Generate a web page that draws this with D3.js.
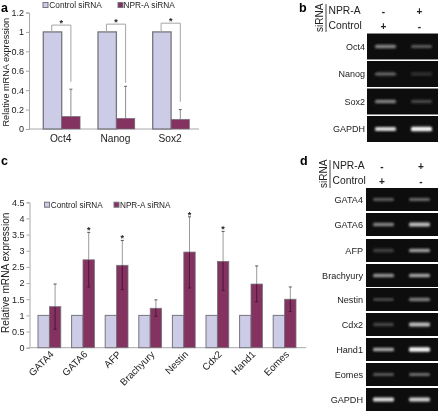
<!DOCTYPE html>
<html><head><meta charset="utf-8">
<script src="https://cdn.jsdelivr.net/npm/d3@7"></script>
<style>html,body{margin:0;padding:0;background:#fff}svg{display:block}text{font-family:"Liberation Sans",Arial,sans-serif;fill:#222}</style>
</head><body><svg id="c" width="439" height="412"></svg>
<script>
const seriesNames = ["Control siRNA", "NPR-A siRNA"];
// panel a
const genesA = ["Oct4", "Nanog", "Sox2"];
const controlA = [1, 1, 1];
const nprA = [0.13, 0.11, 0.10];
const nprAUpper = [0.41, 0.44, 0.20];
const bracketATop = [1.07, 1.08, 1.09];
const bracketAEnd = [0.486, 0.475, 0.28];
const ticksA = [0, 0.2, 0.4, 0.6, 0.8, 1, 1.2];
// panel c
const genesC = ["GATA4", "GATA6", "AFP", "Brachyury", "Nestin", "Cdx2", "Hand1", "Eomes"];
const controlC = [1, 1, 1, 1, 1, 1, 1, 1];
const nprC = [1.27, 2.72, 2.55, 1.22, 2.96, 2.67, 1.97, 1.5];
const nprCUpper = [1.97, 3.57, 3.32, 1.48, 4.05, 3.6, 2.53, 1.88];
const nprCLower = [0.57, 1.88, 1.8, 0.97, 1.85, 1.77, 1.42, 1.12];
const starC = [false, true, true, false, true, true, false, false];
const ticksC = [0, 0.5, 1, 1.5, 2, 2.5, 3, 3.5, 4, 4.5];
// gels: relative band brightness (control lane, NPR-A lane)
const gelB = [["Oct4", .5, .32], ["Nanog", .38, .14], ["Sox2", .48, .24], ["GAPDH", .88, 1]];
const gelD = [["GATA4", .32, .38], ["GATA6", .48, .76], ["AFP", .2, .62], ["Brachyury", .56, .64], ["Nestin", .22, .46],
              ["Cdx2", .22, .76], ["Hand1", .66, 1], ["Eomes", .3, .4], ["GAPDH", .9, .84]];

const COL_C = "#cccce6", COL_N = "#84305f", EDGE = "#77757f", AX = "#a8a8a8";
const svg = d3.select("#c");
const defs = svg.append("defs");
defs.append("filter").attr("id","soft").attr("x","-2%").attr("y","-2%").attr("width","104%").attr("height","104%")
  .append("feGaussianBlur").attr("stdDeviation",0.55);
defs.append("filter").attr("id","band").attr("x","-30%").attr("y","-150%").attr("width","160%").attr("height","400%")
  .append("feGaussianBlur").attr("stdDeviation","1.3 1.1");
const root = svg.append("g").attr("filter","url(#soft)");

function yAxis(g, y, ticks, x, x2, fs) {
  const a = g.append("g").attr("transform",`translate(${x},0)`)
    .call(d3.axisLeft(y).tickValues(ticks).tickSize(3).tickPadding(2).tickFormat(d=>String(d)));
  a.selectAll("path,line").attr("stroke",AX);
  a.selectAll("text").attr("font-size",fs).style("fill","#222");
  g.append("line").attr("x1",x).attr("x2",x2).attr("y1",y(0)).attr("y2",y(0)).attr("stroke",AX);
}
function legend(g, items) {
  items.forEach(d=>{
    g.append("rect").attr("x",d.x).attr("y",d.y-2.5).attr("width",5).attr("height",5).attr("fill",d.c).attr("stroke",EDGE);
    g.append("text").attr("x",d.x+d.dx).attr("y",d.y+3).attr("font-size",d.fs).text(d.t);
  });
}
function tag(t,x,y){root.append("text").attr("x",x).attr("y",y).attr("font-size",12.5).attr("font-weight","bold").style("fill","#000").text(t);}

// ---- panel a
{
  const g = root.append("g");
  const y = d3.scaleLinear().domain([0,1.2]).range([129,12.5]);
  yAxis(g,y,ticksA,29,199,9);
  const bw = 18.4, lefts = d3.scalePoint().domain(genesA).range([43.3,152.7]);
  genesA.forEach((k,i)=>{
    const x0 = lefts(k), xc = x0+bw*1.5;
    g.append("rect").attr("x",x0).attr("y",y(controlA[i])).attr("width",bw).attr("height",y(0)-y(controlA[i])).attr("fill",COL_C).attr("stroke",EDGE).attr("stroke-width",1.3);
    g.append("line").attr("x1",xc).attr("x2",xc).attr("y1",y(nprA[i])).attr("y2",y(nprAUpper[i])).attr("stroke","#8e8e8e");
    g.append("line").attr("x1",xc-1.5).attr("x2",xc+1.5).attr("y1",y(nprAUpper[i])).attr("y2",y(nprAUpper[i])).attr("stroke","#666");
    g.append("rect").attr("x",x0+bw).attr("y",y(nprA[i])).attr("width",bw).attr("height",y(0)-y(nprA[i])).attr("fill",COL_N).attr("stroke",EDGE).attr("stroke-width",.6);
    // significance bracket
    const bx1 = x0+8.4, bx2 = xc, top = y(bracketATop[i]);
    g.append("path").attr("fill","none").attr("stroke","#a5a5a5")
      .attr("d",`M${bx1},${y(1)}V${top}H${bx2}V${y(bracketAEnd[i])}`);
    g.append("text").attr("x",(bx1+bx2)/2).attr("y",top+1).attr("text-anchor","middle").attr("font-size",9).attr("font-weight","bold").text("*");
    g.append("text").attr("x",x0+bw-1).attr("y",142).attr("text-anchor","middle").attr("font-size",10.2).text(k);
  });
  root.append("text").attr("transform","translate(8.5,126.5) rotate(-90)").attr("font-size",9.15).text("Relative mRNA expression");
  legend(g,[{x:43,y:5,dx:6.3,c:COL_C,t:seriesNames[0],fs:8.3},{x:118,y:5,dx:5.6,c:COL_N,t:seriesNames[1],fs:8.3}]);
  tag("a",1,11.8);
}
// ---- panel c
{
  const g = root.append("g");
  const y = d3.scaleLinear().domain([0,4.5]).range([347.7,202.3]);
  const lefts = d3.scalePoint().domain(genesC).range([38,273.2]);
  const bw = 11.4;
  yAxis(g,y,ticksC,29.5,306,9);
  genesC.forEach((k,i)=>{
    const x0 = lefts(k), xc = x0+bw*1.5;
    g.append("rect").attr("x",x0).attr("y",y(controlC[i])).attr("width",bw).attr("height",y(0)-y(controlC[i])).attr("fill",COL_C).attr("stroke",EDGE).attr("stroke-width",1);
    g.append("rect").attr("x",x0+bw).attr("y",y(nprC[i])).attr("width",bw).attr("height",y(0)-y(nprC[i])).attr("fill",COL_N).attr("stroke",EDGE).attr("stroke-width",.8);
    g.append("line").attr("x1",xc).attr("x2",xc).attr("y1",y(nprCUpper[i])).attr("y2",y(nprC[i])).attr("stroke","#9a9a9a");
    g.append("line").attr("x1",xc).attr("x2",xc).attr("y1",y(nprC[i])).attr("y2",y(nprCLower[i])).attr("stroke","#4a1a38");
    [nprCUpper[i],nprCLower[i]].forEach((v,j)=>g.append("line").attr("x1",xc-1.5).attr("x2",xc+1.5).attr("y1",y(v)).attr("y2",y(v)).attr("stroke",j?"#4a1a38":"#555"));
    if(starC[i]) g.append("text").attr("x",xc).attr("y",y(nprCUpper[i])+1).attr("text-anchor","middle").attr("font-size",9).attr("font-weight","bold").text("*");
    g.append("text").attr("transform",`translate(${x0+bw+5},${355}) rotate(-45)`).attr("text-anchor","end").attr("font-size",9.8).text(k);
  });
  root.append("text").attr("transform","translate(8.5,333) rotate(-90)").attr("font-size",10.15).text("Relative mRNA expression");
  legend(g,[{x:44.5,y:204.7,dx:6.3,c:COL_C,t:seriesNames[0],fs:8.2},{x:114,y:204.7,dx:6,c:COL_N,t:seriesNames[1],fs:8.2}]);
  tag("c",1,165);
}
// ---- gels
function gel(rows, tops, h, x0, x1, lanes, labelX, fs) {
  const g = root.append("g");
  const bright = d3.scaleLinear().domain([0,1]).range(["#181818","#f4f4f4"]);
  rows.forEach((r,i)=>{
    g.append("rect").attr("x",x0).attr("y",tops[i]).attr("width",x1-x0).attr("height",h).attr("fill","#0e0e0e");
    lanes.forEach((lx,j)=>{
      const v = r[j+1], bh = 2.5+v*1.8;
      g.append("rect").attr("x",lx+1).attr("y",tops[i]+h/2-bh/2).attr("width",21).attr("height",bh)
        .attr("rx",1.5).attr("fill",bright(v)).attr("filter","url(#band)");
    });
    g.append("text").attr("x",labelX).attr("y",tops[i]+h/2+3).attr("text-anchor","end").attr("font-size",fs).text(r[0]);
  });
}
function header(x, y1, y2, barTop, barBot, lane1, lane2) {
  const g = root.append("g");
  g.append("text").attr("transform",`translate(${x-3},${barBot}) rotate(-90)`).attr("font-size",10).text("siRNA");
  g.append("line").attr("x1",x).attr("x2",x).attr("y1",barTop).attr("y2",barBot).attr("stroke","#444");
  g.append("text").attr("x",x+2.5).attr("y",y1).attr("font-size",10.3).text("NPR-A");
  g.append("text").attr("x",x+2.5).attr("y",y2).attr("font-size",10.3).text("Control");
  [["-","+",y1],["+","-",y2]].forEach(([a,b,yy])=>{
    g.append("text").attr("x",lane1).attr("y",yy+1).attr("text-anchor","middle").attr("font-size",10).attr("font-weight","bold").text(a);
    g.append("text").attr("x",lane2).attr("y",yy+1).attr("text-anchor","middle").attr("font-size",10).attr("font-weight","bold").text(b);
  });
}
gel(gelB,[33.5,61,88.5,116],26,367,438,[374,410],365,9);
header(326,14,29,4,32,383.5,419.5);
tag("b",299,11.8);
gel(gelD,[188,213,239,264,288,313,338,363,388],23,366,438,[372,408],363,9.1);
header(330,169,184,160,188,382,421);
tag("d",300,165);
</script></body></html>
